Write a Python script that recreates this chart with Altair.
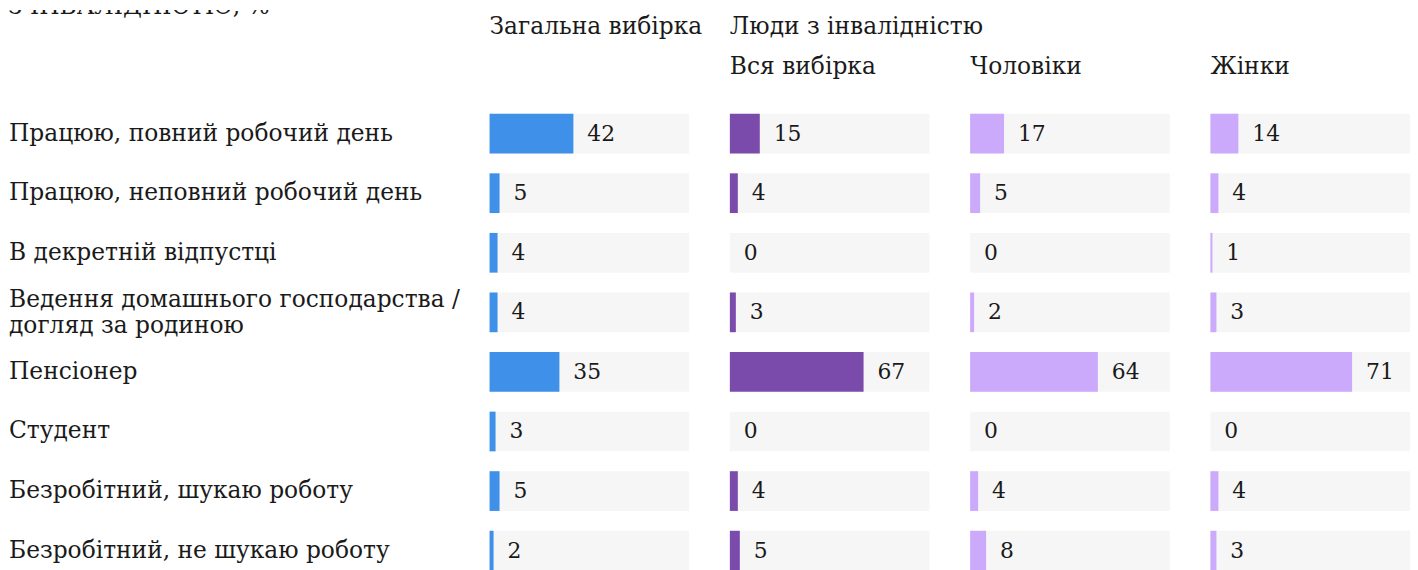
import altair as alt
import pandas as pd

# ---- data ----
categories = [
    "Працюю, повний робочий день",
    "Працюю, неповний робочий день",
    "В декретній відпустці",
    "Ведення домашнього господарства /\nдогляд за родиною",
    "Пенсіонер",
    "Студент",
    "Безробітний, шукаю роботу",
    "Безробітний, не шукаю роботу",
]
general = [42, 5, 4, 4, 35, 3, 5, 2]
dis_all = [15, 4, 0, 3, 67, 0, 4, 5]
dis_men = [17, 5, 0, 2, 64, 0, 4, 8]
dis_women = [14, 4, 1, 3, 71, 0, 4, 3]

title_text = "З ІНВАЛІДНІСТЮ, %"
group_headers = ["Загальна вибірка", "Люди з інвалідністю"]
sub_headers = ["Вся вибірка", "Чоловіки", "Жінки"]

FONT = "DejaVu Serif"
FS = 23.5
NFS = 22
TXT = "#1a1a1a"
BLUE = "#3f90e9"
PURPLE = "#7b4bab"
LILAC = "#cba9fb"
BG = "#f6f6f6"

PANEL_H = 562
yscale = alt.Scale(domain=categories, range=[94.5, 574.5], paddingInner=1 / 3, paddingOuter=1 / 6)


def yenc():
    return alt.Y("cat:N", sort=categories, axis=None, scale=yscale)


def text_layer(text, y):
    return alt.Chart(pd.DataFrame({"t": [text]})).mark_text(
        align="left", baseline="alphabetic", font=FONT, fontSize=FS, color=TXT
    ).encode(x=alt.value(0), y=alt.value(y), text="t:N")


def panel(vals, color, header=None, sub=None):
    df = pd.DataFrame({"cat": categories, "v": vals, "bg": [100] * len(vals)})
    xs = alt.Scale(domain=[0, 100], nice=False, zero=True)
    base = alt.Chart(df)
    bg = base.mark_bar(color=BG).encode(x=alt.X("bg:Q", scale=xs, axis=None), y=yenc())
    bar = base.mark_bar(color=color).encode(x=alt.X("v:Q", scale=xs, axis=None), y=yenc())
    lbl = base.mark_text(
        align="left", baseline="middle", dx=14, font=FONT, fontSize=NFS, color=TXT
    ).encode(x=alt.X("v:Q", scale=xs, axis=None), y=yenc(), text="v:Q")
    layers = [bg, bar, lbl]
    if header:
        layers.append(text_layer(header, 24))
    if sub:
        layers.append(text_layer(sub, 64))
    return alt.layer(*layers).properties(width=201, height=PANEL_H)


lab_df = pd.DataFrame({"cat": categories})
lab_df["multi"] = lab_df["cat"].str.contains("\n")
labels_single = alt.Chart(lab_df).transform_filter("!datum.multi").mark_text(
    align="left", baseline="middle", font=FONT, fontSize=FS, color=TXT
).encode(x=alt.value(1), y=yenc(), text="cat:N")
labels_multi = alt.Chart(lab_df).transform_filter("datum.multi").mark_text(
    align="left", baseline="middle", font=FONT, fontSize=FS, color=TXT,
    lineBreak="\n", lineHeight=26, dy=-12
).encode(x=alt.value(1), y=yenc(), text="cat:N")
title = alt.Chart(pd.DataFrame({"t": [title_text]})).mark_text(
    align="left", baseline="alphabetic", font=FONT, fontSize=FS, color=TXT, clip=True
).encode(x=alt.value(0), y=alt.value(4), text="t:N")
label_panel = alt.layer(labels_single, labels_multi, title).properties(width=443.5, height=PANEL_H)

chart = alt.hconcat(
    label_panel,
    panel(general, BLUE, header=group_headers[0]),
    panel(dis_all, PURPLE, header=group_headers[1], sub=sub_headers[0]),
    panel(dis_men, LILAC, sub=sub_headers[1]),
    panel(dis_women, LILAC, sub=sub_headers[2]),
    spacing=41,
    bounds="flush",
).properties(padding=0).configure_view(stroke=None)

chart.save("out.html", embed_options={"renderer": "svg", "actions": False})
